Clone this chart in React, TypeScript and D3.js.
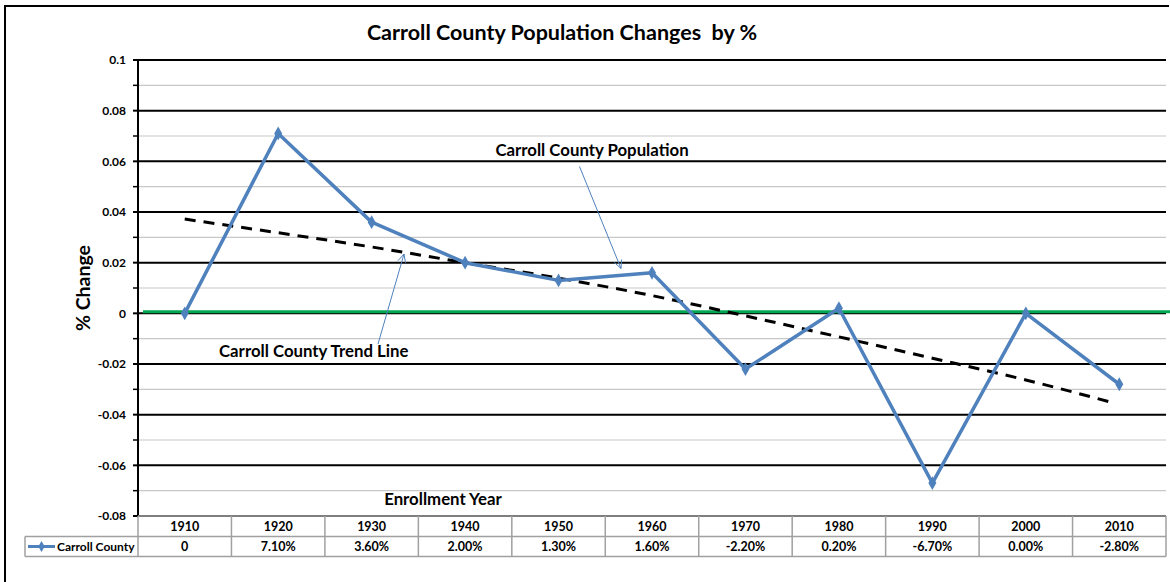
import React from "react";
import * as d3 from "d3";

const years = ["1910", "1920", "1930", "1940", "1950", "1960", "1970", "1980", "1990", "2000", "2010"];
const values = [0, 0.071, 0.036, 0.02, 0.013, 0.016, -0.022, 0.002, -0.067, 0.0, -0.028];
const valueLabels = ["0", "7.10%", "3.60%", "2.00%", "1.30%", "1.60%", "-2.20%", "0.20%", "-6.70%", "0.00%", "-2.80%"];
// hand-drawn trend line, read at each year
const trendValues = [0.0372, 0.0318, 0.0262, 0.02, 0.0139, 0.007, -0.001, -0.0093, -0.0177, -0.0263, -0.0352];
const majorTicks = [0.1, 0.08, 0.06, 0.04, 0.02, 0, -0.02, -0.04, -0.06, -0.08];
const minorTicks = [0.09, 0.07, 0.05, 0.03, 0.01, -0.01, -0.03, -0.05, -0.07];

const W = 1170;
const H = 582;
const FONT = "Lato, 'Open Sans', sans-serif";
const BLUE = "#4f81bd";

export default function App() {
  const x = d3.scaleBand<string>().domain(years).range([138, 1166]).padding(0);
  const y = d3.scaleLinear().domain([-0.08, 0.1]).range([516, 60]);
  const cx = (d: string) => (x(d) as number) + x.bandwidth() / 2;

  const line = d3
    .line<number>()
    .x((_, i) => cx(years[i]))
    .y((d) => y(d));

  const trendLine = d3
    .line<number>()
    .x((_, i) => cx(years[i]) - (i === years.length - 1 ? 7 : 0))
    .y((d) => y(d))
    .curve(d3.curveMonotoneX);

  const diamond = d3.symbol().type(d3.symbolDiamond).size(55)() as string;
  const fmt = (d: number) => String(+d.toFixed(2));

  const arrowHead = (x1: number, y1: number, x2: number, y2: number) => {
    const a = Math.atan2(y2 - y1, x2 - x1);
    const L = 9;
    const s = 0.45;
    const p1 = [x2 - L * Math.cos(a - s), y2 - L * Math.sin(a - s)];
    const p2 = [x2 - L * Math.cos(a + s), y2 - L * Math.sin(a + s)];
    return `M${p1[0]},${p1[1]}L${x2},${y2}L${p2[0]},${p2[1]}`;
  };

  const rowTop = 516;
  const rowMid = 536.5;
  const rowBot = 556.5;
  const gray = "#a0a0a0";

  return (
    <svg width={W} height={H} style={{ position: "absolute", left: 0, top: 0, background: "#fff" }}>
      <rect x={0} y={0} width={W} height={H} fill="#fff" />
      {/* outer frame */}
      <line x1={4} y1={6} x2={1169} y2={6} stroke="#000" strokeWidth={2} />
      <line x1={5} y1={5} x2={5} y2={H} stroke="#000" strokeWidth={2} />

      {/* title */}
      <text
        x={562}
        y={40}
        textAnchor="middle"
        fontFamily={FONT}
        fontWeight="bold"
        fontSize={21.5}
        fill="#000"
        style={{ whiteSpace: "pre" }}
        xmlSpace="preserve"
      >
        {"Carroll County Population Changes  by %"}
      </text>

      {/* minor gridlines */}
      {minorTicks.map((t) => (
        <g key={"mi" + t}>
          <line x1={138} x2={1166} y1={y(t)} y2={y(t)} stroke="#c8c8c8" strokeWidth={1.2} />
          <line x1={133} x2={138} y1={y(t)} y2={y(t)} stroke="#000" strokeWidth={1.5} />
        </g>
      ))}
      {/* major gridlines */}
      {majorTicks.map((t) => (
        <g key={"ma" + t}>
          {t !== -0.08 && (
            <line x1={138} x2={1166} y1={y(t)} y2={y(t)} stroke="#000" strokeWidth={2} />
          )}
          <line x1={133} x2={138} y1={y(t)} y2={y(t)} stroke="#000" strokeWidth={2} />
          <text
            x={126}
            y={y(t)}
            dy="0.35em"
            textAnchor="end"
            fontFamily={FONT}
            fontWeight="bold"
            fontSize={12}
            fill="#000"
          >
            {fmt(t)}
          </text>
        </g>
      ))}
      {/* y axis line */}
      <line x1={138} x2={138} y1={60} y2={516} stroke="#000" strokeWidth={2} />

      {/* y axis title */}
      <text
        transform={`translate(90,${288}) rotate(-90)`}
        textAnchor="middle"
        fontFamily={FONT}
        fontWeight="bold"
        fontSize={19.5}
        fill="#000"
      >
        % Change
      </text>

      {/* green zero reference line */}
      <line x1={143} x2={1170} y1={y(0) - 1.6} y2={y(0) - 1.6} stroke="#00a651" strokeWidth={3} />

      {/* trend line */}
      <path
        d={trendLine(trendValues) as string}
        fill="none"
        stroke="#000"
        strokeWidth={3}
        strokeDasharray="11,8"
      />

      {/* data line */}
      <path d={line(values) as string} fill="none" stroke={BLUE} strokeWidth={3.5} strokeLinejoin="round" />
      {values.map((v, i) => (
        <path key={"m" + i} d={diamond} transform={`translate(${cx(years[i])},${y(v)})`} fill={BLUE} />
      ))}

      {/* annotations */}
      <text x={592} y={156} textAnchor="middle" fontFamily={FONT} fontWeight="bold" fontSize={16.8} fill="#000">
        Carroll County Population
      </text>
      <line x1={579.5} y1={166.5} x2={621} y2={268.5} stroke={BLUE} strokeWidth={1} />
      <path d={arrowHead(579.5, 166.5, 621, 268.5)} fill="none" stroke={BLUE} strokeWidth={1} />

      <text x={219} y={357} textAnchor="start" fontFamily={FONT} fontWeight="bold" fontSize={16.8} fill="#000">
        Carroll County Trend Line
      </text>
      <line x1={378} y1={344} x2={404} y2={254} stroke={BLUE} strokeWidth={1} />
      <path d={arrowHead(378, 344, 404, 254)} fill="none" stroke={BLUE} strokeWidth={1} />

      <text x={443} y={505} textAnchor="middle" fontFamily={FONT} fontWeight="bold" fontSize={16.8} fill="#000">
        Enrollment Year
      </text>

      {/* data table */}
      <line x1={138} x2={1166} y1={rowTop} y2={rowTop} stroke="#7f7f7f" strokeWidth={2} />
      <line x1={25} x2={1166} y1={rowMid} y2={rowMid} stroke={gray} strokeWidth={1.5} />
      <line x1={25} x2={1166} y1={rowBot} y2={rowBot} stroke={gray} strokeWidth={1.5} />
      <line x1={25} x2={25} y1={rowMid} y2={rowBot} stroke={gray} strokeWidth={1.5} />
      <line x1={138} x2={138} y1={rowTop} y2={rowBot} stroke={gray} strokeWidth={1.5} />
      {years.map((yr, i) => (
        <g key={"c" + yr}>
          <line
            x1={(x(yr) as number) + x.bandwidth()}
            x2={(x(yr) as number) + x.bandwidth()}
            y1={rowTop}
            y2={rowBot}
            stroke={gray}
            strokeWidth={1.5}
          />
          <text x={cx(yr)} y={(rowTop + rowMid) / 2} dy="0.35em" textAnchor="middle" fontFamily={FONT} fontWeight="bold" fontSize={12.5}>
            {yr}
          </text>
          <text x={cx(yr)} y={(rowMid + rowBot) / 2} dy="0.35em" textAnchor="middle" fontFamily={FONT} fontWeight="bold" fontSize={12.5}>
            {valueLabels[i]}
          </text>
        </g>
      ))}
      {/* legend key */}
      <line x1={28} x2={55} y1={(rowMid + rowBot) / 2} y2={(rowMid + rowBot) / 2} stroke={BLUE} strokeWidth={3} />
      <path d={diamond} transform={`translate(41.5,${(rowMid + rowBot) / 2}) scale(0.8)`} fill={BLUE} />
      <text x={57} y={(rowMid + rowBot) / 2} dy="0.35em" fontFamily={FONT} fontWeight="bold" fontSize={12}>
        Carroll County
      </text>
    </svg>
  );
}
